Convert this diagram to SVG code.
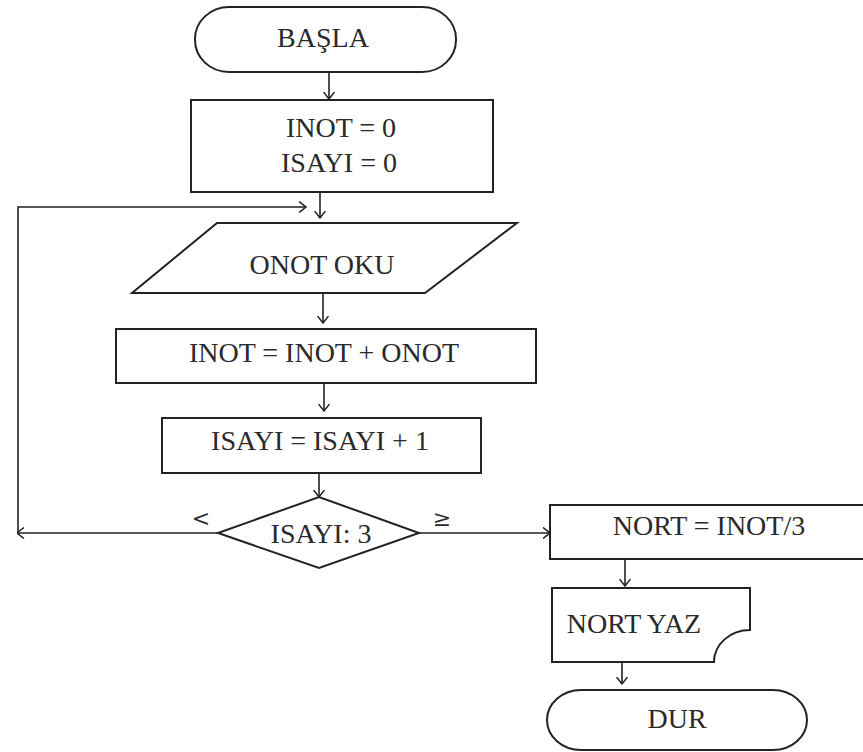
<svg xmlns="http://www.w3.org/2000/svg" width="863" height="752" viewBox="0 0 863 752">
  <style>
    .shape { fill: #ffffff; stroke: #222222; stroke-width: 2; }
    .line { fill: none; stroke: #222222; stroke-width: 1.6; }
    .lbl { font-family: "Liberation Serif", "Times New Roman", serif; font-size: 28px; fill: #2a2a2a; text-anchor: middle; }
    .sym { font-family: "DejaVu Serif", "Liberation Serif", serif; font-size: 22px; fill: #2a2a2a; text-anchor: middle; }
  </style>
  <defs>
    <marker id="arr" viewBox="0 0 8 12" refX="7.5" refY="6" markerWidth="8" markerHeight="12" markerUnits="userSpaceOnUse" orient="auto">
      <path d="M0.5,0.5 L7.5,6 L0.5,11.5" fill="none" stroke="#222222" stroke-width="1.5"/>
    </marker>
  </defs>
  <rect width="863" height="752" fill="#ffffff"/>

  <!-- connectors -->
  <g id="connectors">
    <line class="line" x1="329" y1="72" x2="329" y2="99" marker-end="url(#arr)"/>
    <line class="line" x1="320" y1="192" x2="320" y2="218" marker-end="url(#arr)"/>
    <line class="line" x1="323" y1="293" x2="323" y2="323" marker-end="url(#arr)"/>
    <line class="line" x1="324" y1="383" x2="324" y2="411" marker-end="url(#arr)"/>
    <line class="line" x1="319" y1="473" x2="319" y2="497" marker-end="url(#arr)"/>
    <!-- loop back: < branch -->
    <line class="line" x1="218" y1="533" x2="17" y2="533" marker-end="url(#arr)"/>
    <polyline class="line" points="18,533 18,207 306,207" marker-end="url(#arr)"/>
    <!-- >= branch -->
    <line class="line" x1="419" y1="533" x2="550" y2="533" marker-end="url(#arr)"/>
    <line class="line" x1="625" y1="559" x2="625" y2="586" marker-end="url(#arr)"/>
    <line class="line" x1="622" y1="662" x2="622" y2="684" marker-end="url(#arr)"/>
    <text class="sym" x="201" y="526">&lt;</text>
    <text class="sym" x="442" y="526">≥</text>
  </g>

  <g id="start">
    <rect class="shape" x="195" y="7" width="261" height="65" rx="34" ry="32"/>
    <text class="lbl" x="323" y="47">BAŞLA</text>
  </g>

  <g id="init">
    <rect class="shape" x="191" y="100" width="302" height="92"/>
    <text class="lbl" x="341" y="137">INOT = 0</text>
    <text class="lbl" x="339" y="172">ISAYI = 0</text>
  </g>

  <g id="read">
    <polygon class="shape" points="217,223 517,223 425,293 132,293"/>
    <text class="lbl" x="322" y="274">ONOT OKU</text>
  </g>

  <g id="sum">
    <rect class="shape" x="116" y="329" width="420" height="54"/>
    <text class="lbl" x="324" y="362">INOT = INOT + ONOT</text>
  </g>

  <g id="count">
    <rect class="shape" x="162" y="418" width="319" height="55"/>
    <text class="lbl" x="320" y="450">ISAYI = ISAYI + 1</text>
  </g>

  <g id="decision">
    <polygon class="shape" points="218,533 319,497 419,533 319,568"/>
    <text class="lbl" x="321" y="543">ISAYI: 3</text>
  </g>

  <g id="average">
    <rect class="shape" x="550" y="505" width="330" height="54"/>
    <text class="lbl" x="709" y="535">NORT = INOT/3</text>
  </g>

  <g id="output">
    <path class="shape" d="M552,588 L750,588 L750,630 A36,32 0 0 0 714,662 L552,662 Z"/>
    <text class="lbl" x="634" y="633">NORT YAZ</text>
  </g>

  <g id="end">
    <rect class="shape" x="547" y="690" width="260" height="60" rx="34" ry="30"/>
    <text class="lbl" x="677" y="728">DUR</text>
  </g>
</svg>
